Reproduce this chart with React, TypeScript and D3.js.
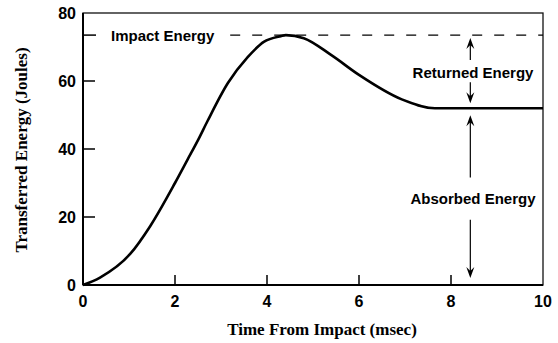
import React from 'react';
import * as d3 from 'd3';

// curve (time in msec, energy in Joules)
const timeMs = [0, 0.37, 1.03, 1.46, 2.0, 2.27, 2.5, 2.71, 3.15, 3.58, 3.93, 4.3, 4.41, 4.8, 5.4, 6.0, 6.93, 7.65, 10];
const energyJ = [0, 2.2, 9.2, 17.3, 30, 36.8, 42.6, 48.3, 59.4, 67, 71.5, 73.2, 73.5, 72.6, 67.6, 61.8, 54.6, 52, 52];

const xTicks = [0, 2, 4, 6, 8, 10];
const yTicks = [0, 20, 40, 60, 80];

const impactEnergy = 73.5;
const residualEnergy = 52;
const arrowTime = 8.42;
const dashStartTime = 3.2;

const width = 558;
const height = 343;
const margin = { top: 13, right: 15, bottom: 58, left: 83 };

const sans = "'Liberation Sans', Arial, sans-serif";
const serif = "'Liberation Serif', 'Times New Roman', serif";

const App: React.FC = () => {
  const x = d3.scaleLinear().domain([0, 10]).range([margin.left, width - margin.right]);
  const y = d3.scaleLinear().domain([0, 80]).range([height - margin.bottom, margin.top]);

  const pts = timeMs.map((t, i) => [t, energyJ[i]] as [number, number]);
  const line = d3.line<[number, number]>()
    .x(d => x(d[0]))
    .y(d => y(d[1]))
    .curve(d3.curveMonotoneX);

  const ax = x(arrowTime);
  const head = (tipY: number, dir: 1 | -1) => {
    // dir 1 = pointing up, -1 = pointing down
    const len = 11;
    const hw = 4;
    return `M${ax},${tipY} L${ax - hw},${tipY + dir * len} L${ax},${tipY + dir * (len - 4)} L${ax + hw},${tipY + dir * len} Z`;
  };

  const yImpact = y(impactEnergy);
  const yRes = y(residualEnergy);
  const yZero = y(0);

  return (
    <div style={{ position: 'absolute', left: 0, top: 0 }}>
      <svg width={width} height={height} style={{ display: 'block', background: '#fff' }}>
        {/* frame */}
        <rect
          x={x(0)} y={y(80)} width={x(10) - x(0)} height={y(0) - y(80)}
          fill="none" stroke="#111" strokeWidth={1.3}
        />
        <line x1={x(0)} x2={x(0)} y1={y(80)} y2={y(0)} stroke="#000" strokeWidth={2} />
        <line x1={x(0)} x2={x(10)} y1={y(0)} y2={y(0)} stroke="#000" strokeWidth={2} />

        {/* y ticks */}
        {yTicks.map(t => (
          <g key={`yt${t}`}>
            {t > 0 && t < 80 && (
              <line x1={x(0)} x2={x(0) + 12} y1={y(t)} y2={y(t)} stroke="#000" strokeWidth={1.5} />
            )}
            <text x={x(0) - 7} y={y(t)} dy="0.36em" textAnchor="end"
              fontFamily={sans} fontWeight="bold" fontSize={16} fill="#000">{t}</text>
          </g>
        ))}
        <line x1={x(0)} x2={x(0) + 13} y1={yImpact} y2={yImpact} stroke="#000" strokeWidth={1.5} />

        {/* x ticks */}
        {xTicks.map(t => (
          <g key={`xt${t}`}>
            {t > 0 && t < 10 && (
              <line x1={x(t)} x2={x(t)} y1={y(0)} y2={y(0) - 10} stroke="#000" strokeWidth={1.5} />
            )}
            <text x={x(t)} y={y(0) + 22} textAnchor="middle"
              fontFamily={sans} fontWeight="bold" fontSize={16} fill="#000">{t}</text>
          </g>
        ))}

        {/* axis titles */}
        <text x={322} y={335} textAnchor="middle" fontFamily={serif} fontWeight="bold" fontSize={17} fill="#000">
          Time From Impact (msec)
        </text>
        <text transform={`translate(27,150) rotate(-90)`} textAnchor="middle"
          fontFamily={serif} fontWeight="bold" fontSize={17} fill="#000">
          Transferred Energy (Joules)
        </text>

        {/* impact energy dashed line */}
        <line x1={x(dashStartTime)} x2={x(10)} y1={yImpact} y2={yImpact}
          stroke="#000" strokeWidth={1.3} strokeDasharray="10 12" />
        <text x={111} y={yImpact} dy="0.36em" fontFamily={sans} fontWeight="bold" fontSize={15} fill="#000">
          Impact Energy
        </text>

        {/* energy curve */}
        <path d={line(pts) ?? ''} fill="none" stroke="#000" strokeWidth={2.6} strokeLinejoin="round" />

        {/* returned energy arrows */}
        <line x1={ax} x2={ax} y1={yImpact + 6} y2={yImpact + 25} stroke="#000" strokeWidth={1.2} />
        <path d={head(yImpact + 3, 1)} fill="#000" />
        <text x={473} y={y(62.5)} dy="0.36em" textAnchor="middle"
          fontFamily={sans} fontWeight="bold" fontSize={15} fill="#000">Returned Energy</text>
        <line x1={ax} x2={ax} y1={yRes - 26} y2={yRes - 8} stroke="#000" strokeWidth={1.2} />
        <path d={head(yRes - 5, -1)} fill="#000" />

        {/* absorbed energy arrows */}
        <line x1={ax} x2={ax} y1={yRes + 10} y2={y(31.6)} stroke="#000" strokeWidth={1.2} />
        <path d={head(yRes + 7, 1)} fill="#000" />
        <text x={473} y={y(25.5)} dy="0.36em" textAnchor="middle"
          fontFamily={sans} fontWeight="bold" fontSize={15} fill="#000">Absorbed Energy</text>
        <line x1={ax} x2={ax} y1={y(19.2)} y2={yZero - 10} stroke="#000" strokeWidth={1.2} />
        <path d={head(yZero - 7, -1)} fill="#000" />
      </svg>
    </div>
  );
};

export default App;
